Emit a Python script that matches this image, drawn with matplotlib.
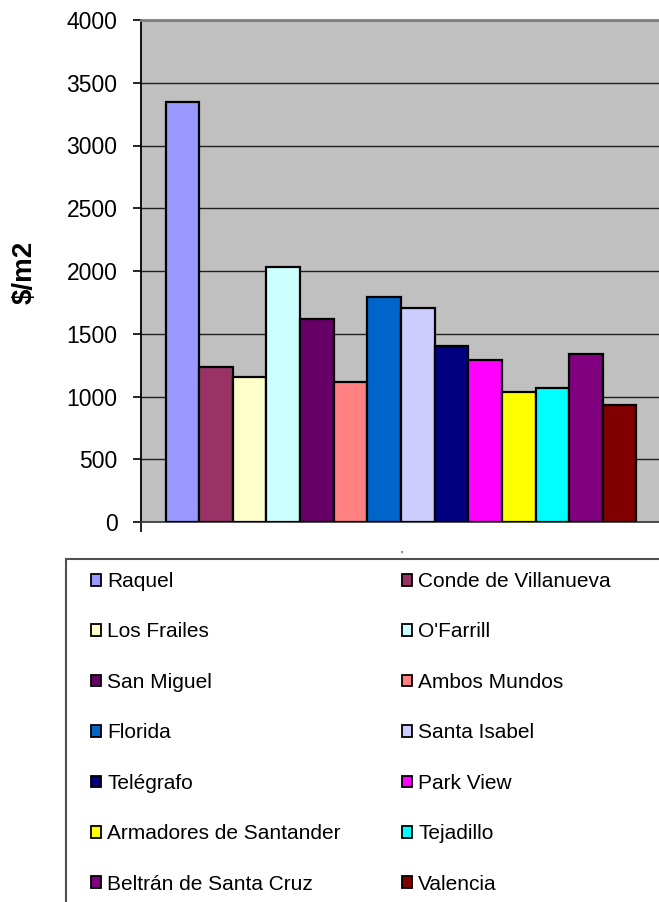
import matplotlib
matplotlib.use("Agg")
import matplotlib.pyplot as plt
from matplotlib.patches import Rectangle, Patch
import numpy as np

plt.rcParams['font.family'] = ['Liberation Sans', 'DejaVu Sans']

hotels = ["Raquel", "Conde de Villanueva", "Los Frailes", "O'Farrill", "San Miguel",
          "Ambos Mundos", "Florida", "Santa Isabel", "Telégrafo", "Park View",
          "Armadores de Santander", "Tejadillo", "Beltrán de Santa Cruz", "Valencia"]
prices = [3345, 1235, 1153, 2031, 1615, 1114, 1791, 1706, 1399, 1290, 1032, 1070, 1342, 931]
colors = ["#9999FF", "#993366", "#FFFFCC", "#CCFFFF", "#660066", "#FF8080", "#0066CC",
          "#CCCCFF", "#000080", "#FF00FF", "#FFFF00", "#00FFFF", "#800080", "#800000"]
y_ticks = [0, 500, 1000, 1500, 2000, 2500, 3000, 3500, 4000]
y_label = "\\$/m2"

W, H = 659, 902
fig = plt.figure(figsize=(W / 100, H / 100), dpi=100)
ax = fig.add_axes([141 / W, (H - 522) / H, 520 / W, 502 / H])
ax.set_facecolor("#C0C0C0")

x = np.arange(len(hotels))
ax.bar(x, prices, width=1.0, color=colors, edgecolor="black", linewidth=1.6, zorder=3)
ax.set_xlim(-1.23, len(hotels) - 1 + 1.23)
ax.set_ylim(0, 4000)
ax.set_yticks(y_ticks)
ax.set_yticklabels([str(v) for v in y_ticks], fontsize=16.5)
ax.yaxis.grid(True, color="#202020", linewidth=1.0, zorder=1)
ax.set_axisbelow(True)
ax.tick_params(axis='y', direction='out', length=6, width=1.2, pad=11, colors='black')
ax.set_xticks([-1.23, len(hotels) - 1 + 1.23])
ax.set_xticklabels([])
ax.tick_params(axis='x', direction='out', length=7, width=1.2)

ax.spines['left'].set_color('black')
ax.spines['left'].set_linewidth(1.3)
ax.spines['bottom'].set_color('#404040')
ax.spines['bottom'].set_linewidth(1.3)
ax.spines['top'].set_color('#808080')
ax.spines['top'].set_linewidth(2.0)
ax.spines['right'].set_visible(False)

fig.text(25 / W, 1 - 272 / H, y_label, rotation=90, ha='center', va='center',
         fontsize=20, fontweight='bold')

# small mark under the category axis
fig.text(401 / W, 1 - 556 / H, "'", ha='center', va='center', fontsize=8)

# legend frame
fig.patches.append(Rectangle((66 / W, -0.05), 1.0, (H - 559) / H + 0.05,
                             transform=fig.transFigure, fill=False,
                             edgecolor='#505050', linewidth=1.5))

handles = [Patch(facecolor=c, edgecolor='black', linewidth=1.3) for c in colors]
common = dict(frameon=False, fontsize=15, handlelength=0.5, handleheight=0.5,
              handletextpad=0.28, labelspacing=1.51, borderpad=0, borderaxespad=0,
              loc='upper left')
leg1 = fig.legend(handles[0::2], hotels[0::2], bbox_to_anchor=(91 / W, 1 - 572 / H), **common)
leg2 = fig.legend(handles[1::2], hotels[1::2], bbox_to_anchor=(402 / W, 1 - 572 / H), **common)

fig.savefig("out.png", dpi=100)
